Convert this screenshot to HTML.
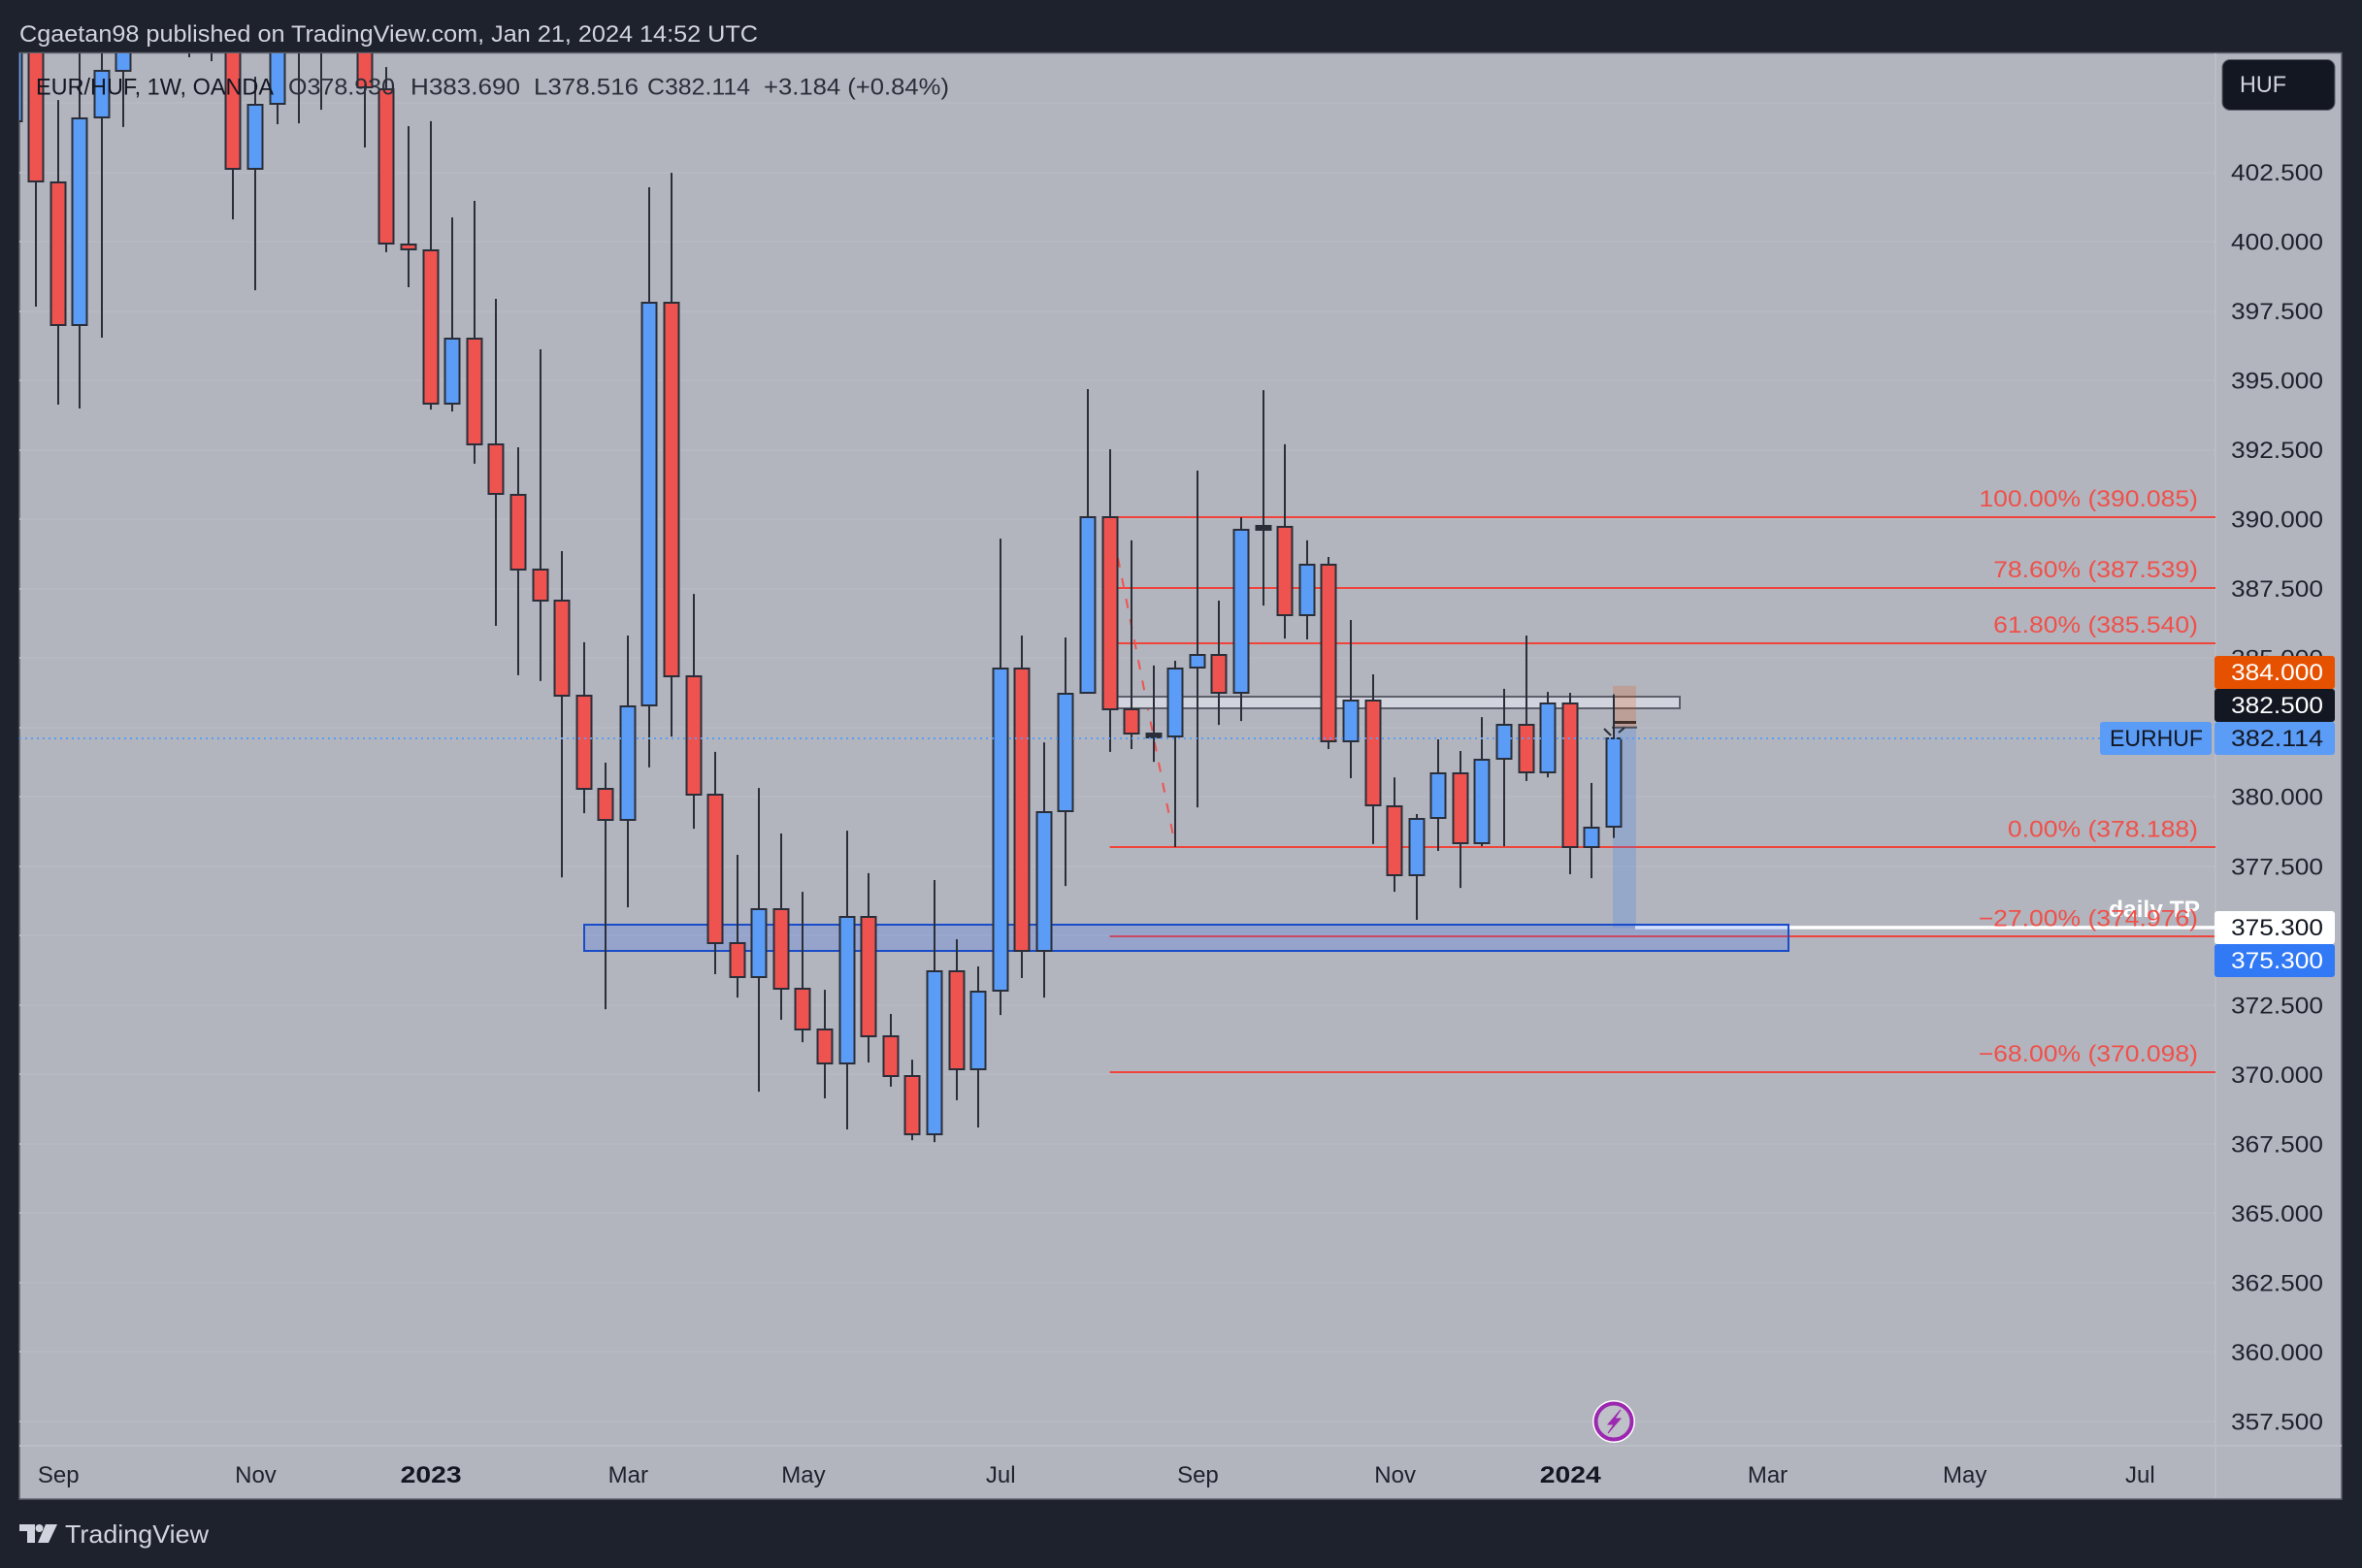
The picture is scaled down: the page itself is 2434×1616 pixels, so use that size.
<!DOCTYPE html>
<html lang="en">
<head>
<meta charset="utf-8">
<title>EUR/HUF weekly chart</title>
<style>
html,body{margin:0;padding:0;background:#1e222d;width:2434px;height:1616px;overflow:hidden}
svg{display:block;font-family:"Liberation Sans",sans-serif}
text{white-space:pre}
</style>
</head>
<body>
<svg id="chart" xmlns="http://www.w3.org/2000/svg" width="2434" height="1616" viewBox="0 0 2434 1616">
  <defs>
    <clipPath id="plot-clip"><rect x="20" y="55" width="2263" height="1435"/></clipPath>
  </defs>
  <rect x="0" y="0" width="2434" height="1616" fill="#1e222d"/>
  <text x="20" y="43" font-size="24" fill="#d1d4dc" textLength="761" lengthAdjust="spacingAndGlyphs">Cgaetan98 published on TradingView.com, Jan 21, 2024 14:52 UTC</text>
  <rect x="20" y="54.5" width="2393" height="1490.5" fill="#b2b5be" stroke="#5d606b" stroke-width="1.5"/>
  <g id="grid-layer"></g>
  <line x1="2283" y1="55" x2="2283" y2="1544" stroke="#babdc5" stroke-width="2"/>
  <line x1="20" y1="1490" x2="2413" y2="1490" stroke="#babdc5" stroke-width="2"/>
  <g id="drawing-layer" clip-path="url(#plot-clip)"></g>
  <g id="candle-layer" clip-path="url(#plot-clip)"></g>
  <g id="overlay-layer"></g>
  <g id="axis-layer"></g>

  <g>
    <text x="37" y="97.5" font-size="24" fill="#131722" textLength="245" lengthAdjust="spacingAndGlyphs">EUR/HUF, 1W, OANDA</text>
    <text x="297" y="97.5" font-size="24" fill="#2a2e39" textLength="110" lengthAdjust="spacingAndGlyphs">O378.930</text>
    <text x="423" y="97.5" font-size="24" fill="#2a2e39" textLength="113" lengthAdjust="spacingAndGlyphs">H383.690</text>
    <text x="550" y="97.5" font-size="24" fill="#2a2e39" textLength="108" lengthAdjust="spacingAndGlyphs">L378.516</text>
    <text x="667" y="97.5" font-size="24" fill="#2a2e39" textLength="106" lengthAdjust="spacingAndGlyphs">C382.114</text>
    <text x="787" y="97.5" font-size="24" fill="#2a2e39" textLength="191" lengthAdjust="spacingAndGlyphs">+3.184 (+0.84%)</text>
  </g>

  <g>
    <rect x="2290" y="61.5" width="116" height="52" rx="8" fill="#131722" stroke="#5d606b" stroke-width="1"/>
    <text x="2308" y="95" font-size="24" fill="#d1d4dc" textLength="48" lengthAdjust="spacingAndGlyphs">HUF</text>
  </g>

  <g>
    <circle cx="1663" cy="1465" r="22" fill="#ffffff"/>
    <circle cx="1663" cy="1465" r="18.5" fill="#bfc1c9" stroke="#9c27b0" stroke-width="4"/>
    <polygon points="1670,1453 1657,1468 1663,1468 1657,1477 1670,1462 1664,1462" fill="#9c27b0" stroke="#9c27b0" stroke-width="1"/>
  </g>

  <g>
    <path d="M20 1571H36V1590H28V1578H20Z" fill="#d1d4dc"/>
    <circle cx="40.5" cy="1575" r="4" fill="#d1d4dc"/>
    <path d="M47 1571H59L50 1590H39Z" fill="#d1d4dc"/>
    <text x="67" y="1590" font-size="26" fill="#d1d4dc" textLength="148" lengthAdjust="spacingAndGlyphs">TradingView</text>
  </g>
</svg>

<script>
// Weekly candles, oldest first. Bars 0-16 partly run above the visible range.
var opens = [404.33,410,402.13,396.99,404.47,406.15,409.5,411,410,408,409.5,402.62,404.97,409,410,409,409,
405.49,399.90,399.69,394.16,396.50,392.70,390.88,388.19,387.07,383.64,380.29,379.17,383.29,397.80,384.34,380.08,374.73,
373.50,375.95,373.08,371.62,370.40,375.67,371.37,369.94,367.84,373.72,370.19,373.02,384.62,374.45,379.48,383.75,390.07,
383.15,382.28,382.17,384.66,385.11,383.75,389.76,389.72,386.54,388.36,382.00,383.47,379.66,377.18,379.24,380.85,378.33,
381.37,382.59,380.88,383.36,378.19,378.93];
var highs = [410.5,411,405.10,408,408.5,410,411.5,412,411,410.5,410,405.94,408.5,410,411,412,410,
406.29,404.16,404.34,400.87,401.47,397.94,392.59,396.12,388.85,385.57,381.23,385.81,401.96,402.48,387.31,381.62,377.91,
380.32,378.68,376.58,373.05,378.78,377.25,372.18,370.53,377.00,374.87,373.89,389.30,385.81,381.96,385.74,394.69,392.52,
389.24,384.73,384.90,391.75,387.07,390.07,394.65,392.70,389.24,388.64,386.37,384.41,380.70,379.38,382.07,381.65,382.87,
383.89,385.81,383.78,383.75,380.50,383.69];
var lows = [404.33,397.66,394.13,393.99,396.54,404.13,408,408.5,406.64,406.50,400.80,398.25,404.23,404.26,404.75,408,403.39,
399.62,398.36,393.95,393.88,392.00,386.16,384.38,384.17,377.10,379.41,372.35,376.02,381.06,382.17,378.85,373.61,372.77,
369.38,371.97,371.16,369.14,368.02,370.43,369.56,367.63,367.56,369.07,368.09,372.14,373.47,372.77,376.79,383.75,381.62,
381.72,381.26,378.19,379.62,382.59,382.73,386.89,385.70,385.67,381.72,380.67,378.30,376.58,375.57,378.05,376.72,378.22,
378.22,380.57,380.70,377.21,377.07,378.516];
var closes = [409.5,402.17,396.99,404.44,406.15,409,411,409.5,408,409.5,402.62,404.93,406.82,406.82,408,411,405.56,
399.93,399.72,394.16,396.50,392.70,390.91,388.19,387.07,383.64,380.29,379.17,383.26,397.80,384.34,380.08,374.73,373.50,
375.95,373.08,371.62,370.40,375.67,371.37,369.94,367.84,373.72,370.19,372.98,384.62,374.45,379.45,383.71,390.07,383.15,
382.28,382.14,384.62,385.11,383.75,389.62,389.62,386.54,388.36,382.00,383.47,379.69,377.18,379.20,380.85,378.33,381.34,
382.59,380.88,383.36,378.19,378.89,382.114];

var priceTicks = [405,402.5,400,397.5,395,392.5,390,387.5,385,382.5,380,377.5,375,372.5,370,367.5,365,362.5,360,357.5];
var timeLabels = ['Sep','Nov','2023','Mar','May','Jul','Sep','Nov','2024','Mar','May','Jul'];
var timeBars = [2,11,19,28,36,45,54,63,71,80,89,97];
var fibValues = [390.085,387.539,385.540,378.188,374.976,370.098];
var fibLabels = ['100.00% (390.085)','78.60% (387.539)','61.80% (385.540)','0.00% (378.188)','\u221227.00% (374.976)','\u221268.00% (370.098)'];
var lastPrice = 382.114;
var stopPrice = 384.000;
var entryPrice = 382.500;
var targetPrice = 375.300;
var zoneTop = 375.41;
var zoneBottom = 374.46;
var srTop = 383.60;
var srBottom = 383.19;

var NS = 'http://www.w3.org/2000/svg';
function yScale(p){ return 177.5 + (402.5 - p) * 28.61; }
function xScale(i){ return 14.6 + 22.58 * i; }
function make(tag, parent, attrs){
  var el = document.createElementNS(NS, tag);
  for (var k in attrs) el.setAttribute(k, attrs[k]);
  parent.appendChild(el);
  return el;
}
function stretch(el, factor){
  el.setAttribute('textLength', (el.getComputedTextLength() * factor).toFixed(1));
  el.setAttribute('lengthAdjust', 'spacingAndGlyphs');
}

var gridLayer = document.getElementById('grid-layer');
var drawingLayer = document.getElementById('drawing-layer');
var candleLayer = document.getElementById('candle-layer');
var overlayLayer = document.getElementById('overlay-layer');
var axisLayer = document.getElementById('axis-layer');

// Grid and price axis labels
priceTicks.forEach(function(p){
  var g = make('line', gridLayer, {x1:20, x2:2283, y1:Math.round(yScale(p)), y2:Math.round(yScale(p)), stroke:'#b6b9c1', 'stroke-width':2});
  
  
  if (p >= 405) return;
  var t = make('text', axisLayer, {x:2299, y:yScale(p) + 8.5, 'font-size':24, fill:'#1e222d'});
  t.textContent = p.toFixed(3);
  
  
  t.setAttribute('textLength', '95');
  t.setAttribute('lengthAdjust', 'spacingAndGlyphs');
});

// Time axis labels
timeLabels.forEach(function(label, n){
  var bold = /^\d+$/.test(label);
  var t = make('text', axisLayer, {x:xScale(timeBars[n]) + 0.5, y:1528, 'font-size':24, fill:bold ? '#131722' : '#1e222d', 'text-anchor':'middle', 'font-weight':bold ? 700 : 400});
  t.textContent = label;
  
  
  if (bold) stretch(t, 1.18);
});

// Fibonacci lines
fibValues.forEach(function(v){
  var y = Math.round(yScale(v));
  var l = make('line', drawingLayer, {x1:xScale(50), x2:2283, y1:y, y2:y, stroke:'#f0433a', 'stroke-width':2});
  
  
});

// Dashed swing line across the fib anchor bars
var swing = make('line', drawingLayer, {x1:xScale(50), y1:yScale(fibValues[0]), x2:xScale(53), y2:yScale(fibValues[3]), stroke:'#ef5350', 'stroke-width':2, 'stroke-dasharray':'10 11.5'});



// Support/resistance box
var srBox = make('rect', drawingLayer, {x:xScale(50), y:Math.round(yScale(srTop)), width:1731 - xScale(50), height:Math.round(yScale(srBottom)) - Math.round(yScale(srTop)), fill:'#d1d4dc', stroke:'#5d606b', 'stroke-width':2});



// Short position tool
var posX = 1662, posW = 24;
var riskRect = make('rect', drawingLayer, {x:posX, y:yScale(stopPrice), width:posW, height:yScale(entryPrice) - yScale(stopPrice), fill:'rgba(230,81,0,0.2)'});


var rewardRect = make('rect', drawingLayer, {x:posX, y:yScale(entryPrice), width:posW, height:yScale(targetPrice) - yScale(entryPrice), fill:'rgba(49,121,245,0.22)'});


var stopBar = make('rect', drawingLayer, {x:posX, y:743, width:posW, height:3, fill:'#43302a'});


var entryLine = make('line', drawingLayer, {x1:posX - 1, x2:posX + posW + 1, y1:yScale(entryPrice), y2:yScale(entryPrice), stroke:'#4d4f58', 'stroke-width':2});



// White target line
var targetLine = make('rect', drawingLayer, {x:posX + posW - 1, y:yScale(targetPrice) - 1.5, width:2283 - posX - posW + 1, height:3.5, fill:'#ffffff'});



// Blue demand zone
var zone = make('rect', drawingLayer, {x:602, y:Math.round(yScale(zoneTop)), width:1241, height:Math.round(yScale(zoneBottom)) - Math.round(yScale(zoneTop)), fill:'rgba(41,98,255,0.2)', stroke:'#1a4bc9', 'stroke-width':2});



// Candles
opens.forEach(function(o, i){
  var c = closes[i], x = Math.round(xScale(i));
  var top = Math.round(yScale(Math.max(o, c))), bottom = Math.round(yScale(Math.min(o, c)));
  var thin = bottom - top <= 4;
  var wick = make('line', candleLayer, {x1:x, x2:x, y1:yScale(highs[i]), y2:yScale(lows[i]), stroke:'#2a2e39', 'stroke-width':2});
  
  
  var body = make('rect', candleLayer, {x:x - 7.5, y:top, width:15, height:Math.max(bottom - top, 1), fill:thin ? '#2a2e39' : (c >= o ? '#5b9cf6' : '#ef5350'), stroke:'#2a2e39', 'stroke-width':2});
  
  
});

// Small arrow above the last candle
var arrowLeft = make('line', overlayLayer, {x1:1653, y1:751, x2:1660, y2:758, stroke:'#2a2e39', 'stroke-width':2});


var arrowRight = make('line', overlayLayer, {x1:1668, y1:755, x2:1674, y2:750, stroke:'#2a2e39', 'stroke-width':2});



// Last price dotted line
var priceLine = make('line', overlayLayer, {x1:20, x2:2164, y1:Math.round(yScale(lastPrice)), y2:Math.round(yScale(lastPrice)), stroke:'#5b9cf6', 'stroke-width':2, 'stroke-dasharray':'2 4'});



// daily TP label sits beneath the fib label
var tpLabel = make('text', overlayLayer, {x:2173, y:945, 'font-size':24, 'font-weight':700, fill:'#ffffff', textLength:94, lengthAdjust:'spacingAndGlyphs'});
tpLabel.textContent = 'daily TP';



// Fib labels
fibValues.forEach(function(v, n){
  var t = make('text', overlayLayer, {x:2265, y:yScale(v) - 10.5, 'font-size':24, fill:'#f0504a', 'text-anchor':'end'});
  t.textContent = fibLabels[n];
  
  
  stretch(t, 1.105);
});

// Price axis badges
function badge(label, price, top, fill, textFill, name){
  var r = make('rect', axisLayer, {x:2282, y:top, width:124, height:34, rx:3, fill:fill});
  
  
  var t = make('text', axisLayer, {x:2299, y:top + 25, 'font-size':24, fill:textFill, textLength:95, lengthAdjust:'spacingAndGlyphs'});
  t.textContent = price.toFixed(3);
  
  
}
badge('stop', stopPrice, 676, '#e65100', '#ffffff', 'stop-price-badge');
badge('entry', entryPrice, 710, '#131722', '#ffffff', 'entry-price-badge');
badge('last', lastPrice, 744, '#5b9cf6', '#131722', 'last-price-badge');
badge('tp', targetPrice, 939, '#ffffff', '#131722', 'daily-tp-badge');
badge('target', targetPrice, 973, '#3179f5', '#ffffff', 'target-price-badge');

var symBox = make('rect', axisLayer, {x:2164, y:744, width:115, height:34, rx:3, fill:'#5b9cf6'});


var symText = make('text', axisLayer, {x:2174, y:769, 'font-size':24, fill:'#131722', textLength:96, lengthAdjust:'spacingAndGlyphs'});
symText.textContent = 'EURHUF';


</script>
</body>
</html>
